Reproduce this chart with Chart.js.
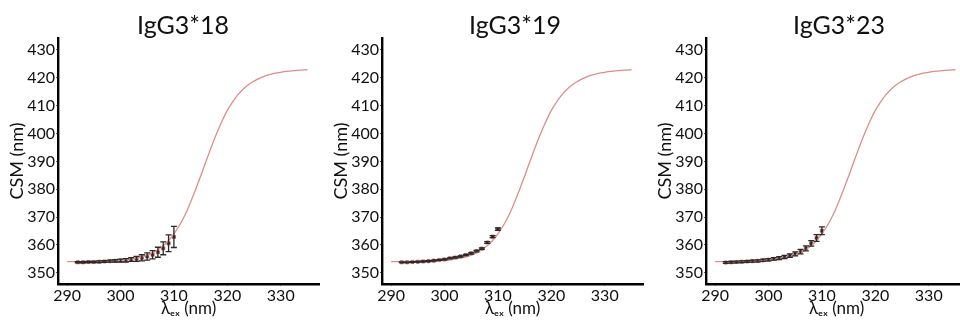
<!DOCTYPE html>
<html lang="en">
<head>
  <meta charset="UTF-8" />
  <title>CSM vs excitation wavelength</title>
  <script src="https://cdn.jsdelivr.net/npm/chart.js"></script>
  <style>
    body { margin: 0; background: #fff; }
    .row { width: 960px; height: 322px; overflow: hidden; display: flex; }
    .panel { position: relative; flex: 0 0 324px; width: 324px; height: 322px; }
    .panel h2 {
      position: absolute; top: 12px; margin: 0; width: 200px;
      font: 400 25px/24px Lato, sans-serif; color: #111; text-align: center;
    }
  </style>
</head>
<body>
  <div class="row" id="row"></div>

  <script>
    // fitted curve
    const curveX = [290, 291, 292, 293, 294, 295, 296, 297, 298, 299, 300, 301, 302, 303, 304, 305,
      306, 307, 308, 309, 310, 311, 312, 313, 314, 315, 316, 317, 318, 319, 320, 321, 322, 323,
      324, 325, 326, 327, 328, 329, 330, 331, 332, 333, 334, 335];
    const curveY = [354.0, 354.0, 354.0, 354.0, 354.1, 354.1, 354.2, 354.2, 354.3, 354.4, 354.5,
      354.7, 355.0, 355.3, 355.7, 356.4, 357.2, 358.3, 359.7, 361.6, 364.0, 366.9, 370.5, 374.8,
      379.6, 384.7, 390.0, 395.2, 400.0, 404.4, 408.3, 411.4, 414.0, 416.0, 417.6, 418.8, 419.8,
      420.6, 421.2, 421.7, 422.0, 422.3, 422.5, 422.7, 422.8, 422.9];

    // measured points
    const lambdaEx = [292, 293, 294, 295, 296, 297, 298, 299, 300, 301, 302, 303, 304, 305, 306,
      307, 308, 309, 310];

    const csm18 = [353.8, 353.8, 353.9, 353.9, 354.0, 354.1, 354.2, 354.3, 354.4, 354.5, 354.8,
      355.0, 355.4, 355.9, 356.5, 357.4, 358.8, 360.6, 362.9];
    const err18 = [0.2, 0.2, 0.2, 0.25, 0.3, 0.3, 0.35, 0.4, 0.5, 0.6, 0.7, 0.9, 1.1, 1.3, 1.5,
      1.8, 2.3, 3.0, 3.8];

    const csm19 = [353.8, 353.8, 353.9, 354.0, 354.1, 354.2, 354.4, 354.6, 354.8, 355.2, 355.5,
      355.9, 356.4, 357.0, 357.8, 358.7, 360.9, 363.0, 365.7];
    const err19 = [0.15, 0.15, 0.15, 0.15, 0.15, 0.15, 0.15, 0.15, 0.2, 0.2, 0.2, 0.2, 0.2, 0.25,
      0.25, 0.3, 0.3, 0.35, 0.4];

    const csm23 = [353.7, 353.8, 353.9, 354.0, 354.1, 354.2, 354.3, 354.5, 354.7, 355.0, 355.3,
      355.7, 356.2, 356.8, 357.6, 358.8, 360.6, 362.5, 365.1];
    const err23 = [0.3, 0.3, 0.3, 0.3, 0.3, 0.35, 0.35, 0.4, 0.4, 0.45, 0.5, 0.55, 0.6, 0.7, 0.8,
      0.9, 1.0, 1.2, 1.4];

    const titles = ["IgG3*18", "IgG3*19", "IgG3*23"];
    const series = [csm18, csm19, csm23];
    const errors = [err18, err19, err23];

    const xTicks = [290, 300, 310, 320, 330];
    const yTicks = [350, 360, 370, 380, 390, 400, 410, 420, 430];

    const titleCenters = [183, 191, 191];

    // draws the vertical error bars using the chart scales
    const errorBars = {
      id: "errorBars",
      afterDatasetsDraw(chart, args, opts) {
        const { ctx, scales: { x, y } } = chart;
        const ds = chart.data.datasets[1];
        ctx.save();
        ctx.strokeStyle = "#2a2a2a";
        ctx.lineWidth = 1.3;
        ds.data.forEach((p, i) => {
          const e = opts.err[i];
          const px = x.getPixelForValue(p.x);
          const top = y.getPixelForValue(p.y + e);
          const bot = y.getPixelForValue(p.y - e);
          ctx.beginPath();
          ctx.moveTo(px, top); ctx.lineTo(px, bot);
          ctx.moveTo(px - 3, top); ctx.lineTo(px + 3, top);
          ctx.moveTo(px - 3, bot); ctx.lineTo(px + 3, bot);
          ctx.stroke();
        });
        ctx.restore();
      }
    };

    const font = { family: "Lato, sans-serif", size: 16 };

    titles.forEach((title, k) => {
      const panel = document.createElement("div");
      panel.className = "panel";
      panel.innerHTML = `<h2 style="left:${titleCenters[k] - 100}px">${title}</h2><canvas width="324" height="322"></canvas>`;
      document.getElementById("row").appendChild(panel);

      new Chart(panel.querySelector("canvas"), {
        type: "scatter",
        data: {
          datasets: [
            {
              data: curveX.map((v, i) => ({ x: v, y: curveY[i] })),
              showLine: true,
              borderColor: "#dc8f8a",
              borderWidth: 1.3,
              pointRadius: 0,
              tension: 0.4
            },
            {
              data: lambdaEx.map((v, i) => ({ x: v, y: series[k][i] })),
              pointStyle: "rect",
              pointRadius: 2.2,
              backgroundColor: "#2b1418",
              borderColor: "#b0605c",
              borderWidth: 0.8
            }
          ]
        },
        options: {
          responsive: false,
          animation: false,
          layout: { padding: { top: 38, left: 0, right: 0, bottom: 0 } },
          plugins: {
            legend: { display: false },
            tooltip: { enabled: false },
            errorBars: { err: errors[k] }
          },
          scales: {
            x: {
              type: "linear",
              min: 288.3,
              max: 337.2,
              afterBuildTicks: s => { s.ticks = xTicks.map(v => ({ value: v })); },
              afterFit: s => { s.height = 38; },
              border: { display: true, color: "#000", width: 2.4 },
              grid: { drawOnChartArea: false, drawTicks: true, tickLength: 2, color: "#555" },
              ticks: { color: "#111", font, padding: 0, maxRotation: 0 },
              title: {
                display: true,
                text: "λₑₓ (nm)",
                color: "#111",
                font: { family: "Lato, sans-serif", size: 17 },
                padding: { top: 0, bottom: 3 }
              }
            },
            y: {
              min: 346,
              max: 434.3,
              afterBuildTicks: s => { s.ticks = yTicks.map(v => ({ value: v })); },
              afterFit: s => { s.width = 58; },
              border: { display: true, color: "#000", width: 2.4 },
              grid: { drawOnChartArea: false, drawTicks: true, tickLength: 2, color: "#555" },
              ticks: { color: "#111", font, padding: 1 },
              title: {
                display: true,
                text: "CSM (nm)",
                color: "#111",
                font: { family: "Lato, sans-serif", size: 18 },
                padding: { top: 6, bottom: 0 }
              }
            }
          }
        },
        plugins: [errorBars]
      });
    });
  </script>
</body>
</html>
